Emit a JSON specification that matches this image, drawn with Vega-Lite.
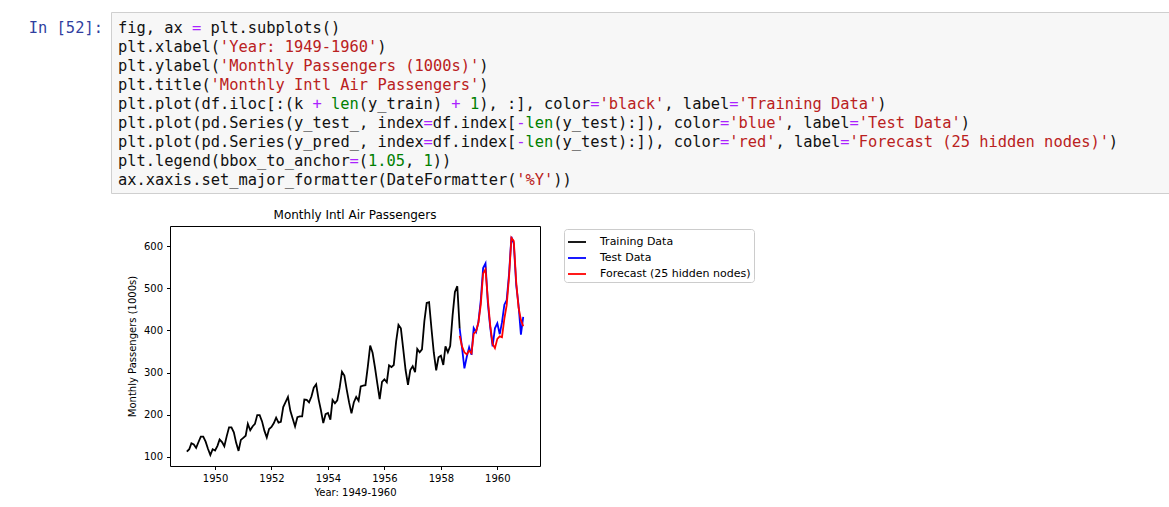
{
  "$schema": "https://vega.github.io/schema/vega-lite/v6.json",
  "padding": {"left": 0, "top": 11, "right": 0, "bottom": 0},
  "background": "white",
  "config": {"view": {"stroke": null}, "font": "DejaVu Sans"},
  "datasets": {
    "code": [
      {"line": 0, "col": 0, "text": "fig, ax", "kind": "p"},
      {"line": 0, "col": 8, "text": "=", "kind": "o"},
      {"line": 0, "col": 10, "text": "plt.subplots()", "kind": "p"},
      {"line": 1, "col": 0, "text": "plt.xlabel(", "kind": "p"},
      {"line": 1, "col": 11, "text": "'Year: 1949-1960'", "kind": "s"},
      {"line": 1, "col": 28, "text": ")", "kind": "p"},
      {"line": 2, "col": 0, "text": "plt.ylabel(", "kind": "p"},
      {"line": 2, "col": 11, "text": "'Monthly Passengers (1000s)'", "kind": "s"},
      {"line": 2, "col": 39, "text": ")", "kind": "p"},
      {"line": 3, "col": 0, "text": "plt.title(", "kind": "p"},
      {"line": 3, "col": 10, "text": "'Monthly Intl Air Passengers'", "kind": "s"},
      {"line": 3, "col": 39, "text": ")", "kind": "p"},
      {"line": 4, "col": 0, "text": "plt.plot(df.iloc[:(k", "kind": "p"},
      {"line": 4, "col": 21, "text": "+", "kind": "o"},
      {"line": 4, "col": 23, "text": "len", "kind": "n"},
      {"line": 4, "col": 26, "text": "(y_train)", "kind": "p"},
      {"line": 4, "col": 36, "text": "+", "kind": "o"},
      {"line": 4, "col": 38, "text": "1", "kind": "n"},
      {"line": 4, "col": 39, "text": "), :], color", "kind": "p"},
      {"line": 4, "col": 51, "text": "=", "kind": "o"},
      {"line": 4, "col": 52, "text": "'black'", "kind": "s"},
      {"line": 4, "col": 59, "text": ", label", "kind": "p"},
      {"line": 4, "col": 66, "text": "=", "kind": "o"},
      {"line": 4, "col": 67, "text": "'Training Data'", "kind": "s"},
      {"line": 4, "col": 82, "text": ")", "kind": "p"},
      {"line": 5, "col": 0, "text": "plt.plot(pd.Series(y_test_, index", "kind": "p"},
      {"line": 5, "col": 33, "text": "=", "kind": "o"},
      {"line": 5, "col": 34, "text": "df.index[", "kind": "p"},
      {"line": 5, "col": 43, "text": "-", "kind": "o"},
      {"line": 5, "col": 44, "text": "len", "kind": "n"},
      {"line": 5, "col": 47, "text": "(y_test):]), color", "kind": "p"},
      {"line": 5, "col": 65, "text": "=", "kind": "o"},
      {"line": 5, "col": 66, "text": "'blue'", "kind": "s"},
      {"line": 5, "col": 72, "text": ", label", "kind": "p"},
      {"line": 5, "col": 79, "text": "=", "kind": "o"},
      {"line": 5, "col": 80, "text": "'Test Data'", "kind": "s"},
      {"line": 5, "col": 91, "text": ")", "kind": "p"},
      {"line": 6, "col": 0, "text": "plt.plot(pd.Series(y_pred_, index", "kind": "p"},
      {"line": 6, "col": 33, "text": "=", "kind": "o"},
      {"line": 6, "col": 34, "text": "df.index[", "kind": "p"},
      {"line": 6, "col": 43, "text": "-", "kind": "o"},
      {"line": 6, "col": 44, "text": "len", "kind": "n"},
      {"line": 6, "col": 47, "text": "(y_test):]), color", "kind": "p"},
      {"line": 6, "col": 65, "text": "=", "kind": "o"},
      {"line": 6, "col": 66, "text": "'red'", "kind": "s"},
      {"line": 6, "col": 71, "text": ", label", "kind": "p"},
      {"line": 6, "col": 78, "text": "=", "kind": "o"},
      {"line": 6, "col": 79, "text": "'Forecast (25 hidden nodes)'", "kind": "s"},
      {"line": 6, "col": 107, "text": ")", "kind": "p"},
      {"line": 7, "col": 0, "text": "plt.legend(bbox_to_anchor", "kind": "p"},
      {"line": 7, "col": 25, "text": "=", "kind": "o"},
      {"line": 7, "col": 26, "text": "(", "kind": "p"},
      {"line": 7, "col": 27, "text": "1.05", "kind": "n"},
      {"line": 7, "col": 31, "text": ",", "kind": "p"},
      {"line": 7, "col": 33, "text": "1", "kind": "n"},
      {"line": 7, "col": 34, "text": "))", "kind": "p"},
      {"line": 8, "col": 0, "text": "ax.xaxis.set_major_formatter(DateFormatter(", "kind": "p"},
      {"line": 8, "col": 43, "text": "'%Y'", "kind": "s"},
      {"line": 8, "col": 47, "text": "))", "kind": "p"}
    ],
    "air": [
      {"date": "1949-01-01", "value": 112, "series": "Training Data"},
      {"date": "1949-02-01", "value": 118, "series": "Training Data"},
      {"date": "1949-03-01", "value": 132, "series": "Training Data"},
      {"date": "1949-04-01", "value": 129, "series": "Training Data"},
      {"date": "1949-05-01", "value": 121, "series": "Training Data"},
      {"date": "1949-06-01", "value": 135, "series": "Training Data"},
      {"date": "1949-07-01", "value": 148, "series": "Training Data"},
      {"date": "1949-08-01", "value": 148, "series": "Training Data"},
      {"date": "1949-09-01", "value": 136, "series": "Training Data"},
      {"date": "1949-10-01", "value": 119, "series": "Training Data"},
      {"date": "1949-11-01", "value": 104, "series": "Training Data"},
      {"date": "1949-12-01", "value": 118, "series": "Training Data"},
      {"date": "1950-01-01", "value": 115, "series": "Training Data"},
      {"date": "1950-02-01", "value": 126, "series": "Training Data"},
      {"date": "1950-03-01", "value": 141, "series": "Training Data"},
      {"date": "1950-04-01", "value": 135, "series": "Training Data"},
      {"date": "1950-05-01", "value": 125, "series": "Training Data"},
      {"date": "1950-06-01", "value": 149, "series": "Training Data"},
      {"date": "1950-07-01", "value": 170, "series": "Training Data"},
      {"date": "1950-08-01", "value": 170, "series": "Training Data"},
      {"date": "1950-09-01", "value": 158, "series": "Training Data"},
      {"date": "1950-10-01", "value": 133, "series": "Training Data"},
      {"date": "1950-11-01", "value": 114, "series": "Training Data"},
      {"date": "1950-12-01", "value": 140, "series": "Training Data"},
      {"date": "1951-01-01", "value": 145, "series": "Training Data"},
      {"date": "1951-02-01", "value": 150, "series": "Training Data"},
      {"date": "1951-03-01", "value": 178, "series": "Training Data"},
      {"date": "1951-04-01", "value": 163, "series": "Training Data"},
      {"date": "1951-05-01", "value": 172, "series": "Training Data"},
      {"date": "1951-06-01", "value": 178, "series": "Training Data"},
      {"date": "1951-07-01", "value": 199, "series": "Training Data"},
      {"date": "1951-08-01", "value": 199, "series": "Training Data"},
      {"date": "1951-09-01", "value": 184, "series": "Training Data"},
      {"date": "1951-10-01", "value": 162, "series": "Training Data"},
      {"date": "1951-11-01", "value": 146, "series": "Training Data"},
      {"date": "1951-12-01", "value": 166, "series": "Training Data"},
      {"date": "1952-01-01", "value": 171, "series": "Training Data"},
      {"date": "1952-02-01", "value": 180, "series": "Training Data"},
      {"date": "1952-03-01", "value": 193, "series": "Training Data"},
      {"date": "1952-04-01", "value": 181, "series": "Training Data"},
      {"date": "1952-05-01", "value": 183, "series": "Training Data"},
      {"date": "1952-06-01", "value": 218, "series": "Training Data"},
      {"date": "1952-07-01", "value": 230, "series": "Training Data"},
      {"date": "1952-08-01", "value": 242, "series": "Training Data"},
      {"date": "1952-09-01", "value": 209, "series": "Training Data"},
      {"date": "1952-10-01", "value": 191, "series": "Training Data"},
      {"date": "1952-11-01", "value": 172, "series": "Training Data"},
      {"date": "1952-12-01", "value": 194, "series": "Training Data"},
      {"date": "1953-01-01", "value": 196, "series": "Training Data"},
      {"date": "1953-02-01", "value": 196, "series": "Training Data"},
      {"date": "1953-03-01", "value": 236, "series": "Training Data"},
      {"date": "1953-04-01", "value": 235, "series": "Training Data"},
      {"date": "1953-05-01", "value": 229, "series": "Training Data"},
      {"date": "1953-06-01", "value": 243, "series": "Training Data"},
      {"date": "1953-07-01", "value": 264, "series": "Training Data"},
      {"date": "1953-08-01", "value": 272, "series": "Training Data"},
      {"date": "1953-09-01", "value": 237, "series": "Training Data"},
      {"date": "1953-10-01", "value": 211, "series": "Training Data"},
      {"date": "1953-11-01", "value": 180, "series": "Training Data"},
      {"date": "1953-12-01", "value": 201, "series": "Training Data"},
      {"date": "1954-01-01", "value": 204, "series": "Training Data"},
      {"date": "1954-02-01", "value": 188, "series": "Training Data"},
      {"date": "1954-03-01", "value": 235, "series": "Training Data"},
      {"date": "1954-04-01", "value": 227, "series": "Training Data"},
      {"date": "1954-05-01", "value": 234, "series": "Training Data"},
      {"date": "1954-06-01", "value": 264, "series": "Training Data"},
      {"date": "1954-07-01", "value": 302, "series": "Training Data"},
      {"date": "1954-08-01", "value": 293, "series": "Training Data"},
      {"date": "1954-09-01", "value": 259, "series": "Training Data"},
      {"date": "1954-10-01", "value": 229, "series": "Training Data"},
      {"date": "1954-11-01", "value": 203, "series": "Training Data"},
      {"date": "1954-12-01", "value": 229, "series": "Training Data"},
      {"date": "1955-01-01", "value": 242, "series": "Training Data"},
      {"date": "1955-02-01", "value": 233, "series": "Training Data"},
      {"date": "1955-03-01", "value": 267, "series": "Training Data"},
      {"date": "1955-04-01", "value": 269, "series": "Training Data"},
      {"date": "1955-05-01", "value": 270, "series": "Training Data"},
      {"date": "1955-06-01", "value": 315, "series": "Training Data"},
      {"date": "1955-07-01", "value": 364, "series": "Training Data"},
      {"date": "1955-08-01", "value": 347, "series": "Training Data"},
      {"date": "1955-09-01", "value": 312, "series": "Training Data"},
      {"date": "1955-10-01", "value": 274, "series": "Training Data"},
      {"date": "1955-11-01", "value": 237, "series": "Training Data"},
      {"date": "1955-12-01", "value": 278, "series": "Training Data"},
      {"date": "1956-01-01", "value": 284, "series": "Training Data"},
      {"date": "1956-02-01", "value": 277, "series": "Training Data"},
      {"date": "1956-03-01", "value": 317, "series": "Training Data"},
      {"date": "1956-04-01", "value": 313, "series": "Training Data"},
      {"date": "1956-05-01", "value": 318, "series": "Training Data"},
      {"date": "1956-06-01", "value": 374, "series": "Training Data"},
      {"date": "1956-07-01", "value": 413, "series": "Training Data"},
      {"date": "1956-08-01", "value": 405, "series": "Training Data"},
      {"date": "1956-09-01", "value": 355, "series": "Training Data"},
      {"date": "1956-10-01", "value": 306, "series": "Training Data"},
      {"date": "1956-11-01", "value": 271, "series": "Training Data"},
      {"date": "1956-12-01", "value": 306, "series": "Training Data"},
      {"date": "1957-01-01", "value": 315, "series": "Training Data"},
      {"date": "1957-02-01", "value": 301, "series": "Training Data"},
      {"date": "1957-03-01", "value": 356, "series": "Training Data"},
      {"date": "1957-04-01", "value": 348, "series": "Training Data"},
      {"date": "1957-05-01", "value": 355, "series": "Training Data"},
      {"date": "1957-06-01", "value": 422, "series": "Training Data"},
      {"date": "1957-07-01", "value": 465, "series": "Training Data"},
      {"date": "1957-08-01", "value": 467, "series": "Training Data"},
      {"date": "1957-09-01", "value": 404, "series": "Training Data"},
      {"date": "1957-10-01", "value": 347, "series": "Training Data"},
      {"date": "1957-11-01", "value": 305, "series": "Training Data"},
      {"date": "1957-12-01", "value": 336, "series": "Training Data"},
      {"date": "1958-01-01", "value": 340, "series": "Training Data"},
      {"date": "1958-02-01", "value": 318, "series": "Training Data"},
      {"date": "1958-03-01", "value": 362, "series": "Training Data"},
      {"date": "1958-04-01", "value": 348, "series": "Training Data"},
      {"date": "1958-05-01", "value": 363, "series": "Training Data"},
      {"date": "1958-06-01", "value": 435, "series": "Training Data"},
      {"date": "1958-07-01", "value": 491, "series": "Training Data"},
      {"date": "1958-08-01", "value": 505, "series": "Training Data"},
      {"date": "1958-09-01", "value": 404, "series": "Training Data"},
      {"date": "1958-09-01", "value": 404, "series": "Test Data"},
      {"date": "1958-10-01", "value": 359, "series": "Test Data"},
      {"date": "1958-11-01", "value": 310, "series": "Test Data"},
      {"date": "1958-12-01", "value": 337, "series": "Test Data"},
      {"date": "1959-01-01", "value": 360, "series": "Test Data"},
      {"date": "1959-02-01", "value": 342, "series": "Test Data"},
      {"date": "1959-03-01", "value": 406, "series": "Test Data"},
      {"date": "1959-04-01", "value": 396, "series": "Test Data"},
      {"date": "1959-05-01", "value": 420, "series": "Test Data"},
      {"date": "1959-06-01", "value": 472, "series": "Test Data"},
      {"date": "1959-07-01", "value": 548, "series": "Test Data"},
      {"date": "1959-08-01", "value": 559, "series": "Test Data"},
      {"date": "1959-09-01", "value": 463, "series": "Test Data"},
      {"date": "1959-10-01", "value": 407, "series": "Test Data"},
      {"date": "1959-11-01", "value": 362, "series": "Test Data"},
      {"date": "1959-12-01", "value": 405, "series": "Test Data"},
      {"date": "1960-01-01", "value": 417, "series": "Test Data"},
      {"date": "1960-02-01", "value": 391, "series": "Test Data"},
      {"date": "1960-03-01", "value": 419, "series": "Test Data"},
      {"date": "1960-04-01", "value": 461, "series": "Test Data"},
      {"date": "1960-05-01", "value": 472, "series": "Test Data"},
      {"date": "1960-06-01", "value": 535, "series": "Test Data"},
      {"date": "1960-07-01", "value": 622, "series": "Test Data"},
      {"date": "1960-08-01", "value": 606, "series": "Test Data"},
      {"date": "1960-09-01", "value": 508, "series": "Test Data"},
      {"date": "1960-10-01", "value": 461, "series": "Test Data"},
      {"date": "1960-11-01", "value": 390, "series": "Test Data"},
      {"date": "1960-12-01", "value": 432, "series": "Test Data"},
      {"date": "1958-09-01", "value": 387, "series": "Forecast (25 hidden nodes)"},
      {"date": "1958-10-01", "value": 362, "series": "Forecast (25 hidden nodes)"},
      {"date": "1958-11-01", "value": 348, "series": "Forecast (25 hidden nodes)"},
      {"date": "1958-12-01", "value": 343, "series": "Forecast (25 hidden nodes)"},
      {"date": "1959-01-01", "value": 352, "series": "Forecast (25 hidden nodes)"},
      {"date": "1959-02-01", "value": 346, "series": "Forecast (25 hidden nodes)"},
      {"date": "1959-03-01", "value": 392, "series": "Forecast (25 hidden nodes)"},
      {"date": "1959-04-01", "value": 398, "series": "Forecast (25 hidden nodes)"},
      {"date": "1959-05-01", "value": 418, "series": "Forecast (25 hidden nodes)"},
      {"date": "1959-06-01", "value": 462, "series": "Forecast (25 hidden nodes)"},
      {"date": "1959-07-01", "value": 535, "series": "Forecast (25 hidden nodes)"},
      {"date": "1959-08-01", "value": 545, "series": "Forecast (25 hidden nodes)"},
      {"date": "1959-09-01", "value": 472, "series": "Forecast (25 hidden nodes)"},
      {"date": "1959-10-01", "value": 412, "series": "Forecast (25 hidden nodes)"},
      {"date": "1959-11-01", "value": 368, "series": "Forecast (25 hidden nodes)"},
      {"date": "1959-12-01", "value": 358, "series": "Forecast (25 hidden nodes)"},
      {"date": "1960-01-01", "value": 380, "series": "Forecast (25 hidden nodes)"},
      {"date": "1960-02-01", "value": 386, "series": "Forecast (25 hidden nodes)"},
      {"date": "1960-03-01", "value": 384, "series": "Forecast (25 hidden nodes)"},
      {"date": "1960-04-01", "value": 428, "series": "Forecast (25 hidden nodes)"},
      {"date": "1960-05-01", "value": 460, "series": "Forecast (25 hidden nodes)"},
      {"date": "1960-06-01", "value": 528, "series": "Forecast (25 hidden nodes)"},
      {"date": "1960-07-01", "value": 620, "series": "Forecast (25 hidden nodes)"},
      {"date": "1960-08-01", "value": 612, "series": "Forecast (25 hidden nodes)"},
      {"date": "1960-09-01", "value": 515, "series": "Forecast (25 hidden nodes)"},
      {"date": "1960-10-01", "value": 455, "series": "Forecast (25 hidden nodes)"},
      {"date": "1960-11-01", "value": 425, "series": "Forecast (25 hidden nodes)"},
      {"date": "1960-12-01", "value": 410, "series": "Forecast (25 hidden nodes)"}
    ]
  },
  "vconcat": [
    {
      "spacing": 0,
      "hconcat": [
        {
          "width": 110,
          "height": 181,
          "data": {"values": [{"line": 0, "text": "In [52]:"}]},
          "mark": {"type": "text", "font": "DejaVu Sans Mono", "fontSize": 15.4, "align": "right", "baseline": "middle", "color": "#303F9F"},
          "encoding": {
            "x": {"datum": 0, "type": "quantitative", "scale": {"domain": [-11.1, 0.76], "zero": false, "nice": false}, "axis": null},
            "y": {"field": "line", "type": "quantitative", "scale": {"domain": [-0.842, 8.684], "reverse": true, "zero": false, "nice": false}, "axis": null},
            "text": {"field": "text"}
          }
        },
        {
          "width": 1058,
          "height": 181,
          "view": {"fill": "#f7f7f7", "stroke": "#cfcfcf"},
          "data": {"name": "code"},
          "encoding": {
            "x": {"field": "col", "type": "quantitative", "scale": {"domain": [-0.756, 113.5], "zero": false, "nice": false}, "axis": null},
            "y": {"field": "line", "type": "quantitative", "scale": {"domain": [-0.842, 8.684], "reverse": true, "zero": false, "nice": false}, "axis": null},
            "text": {"field": "text"}
          },
          "layer": [
            {"transform": [{"filter": {"field": "kind", "equal": "p"}}], "mark": {"type": "text", "font": "DejaVu Sans Mono", "fontSize": 15.4, "align": "left", "baseline": "middle", "color": "#111111"}},
            {"transform": [{"filter": {"field": "kind", "equal": "s"}}], "mark": {"type": "text", "font": "DejaVu Sans Mono", "fontSize": 15.4, "align": "left", "baseline": "middle", "color": "#BA2121"}},
            {"transform": [{"filter": {"field": "kind", "equal": "o"}}], "mark": {"type": "text", "font": "DejaVu Sans Mono", "fontSize": 15.4, "align": "left", "baseline": "middle", "color": "#AA22FF"}},
            {"transform": [{"filter": {"field": "kind", "equal": "n"}}], "mark": {"type": "text", "font": "DejaVu Sans Mono", "fontSize": 15.4, "align": "left", "baseline": "middle", "color": "#008000"}}
          ]
        }
      ]
    },
    {
      "spacing": 0,
      "hconcat": [
        {
          "width": 125.5,
          "height": 20,
          "data": {"values": []},
          "mark": "point",
          "encoding": {}
        },
        {
          "width": 370,
          "height": 240,
          "view": {"stroke": "#000000", "strokeWidth": 1},
          "title": {"text": "Monthly Intl Air Passengers", "fontSize": 12, "fontWeight": "normal", "font": "DejaVu Sans", "color": "#000000", "offset": 4},
          "data": {"name": "air"},
          "encoding": {
            "x": {
              "field": "date", "type": "temporal", "title": "Year: 1949-1960",
              "scale": {"type": "utc", "domain": [{"year": 1948, "month": 5, "date": 28, "utc": true}, {"year": 1961, "month": 7, "date": 6, "utc": true}]},
              "axis": {
                "values": [{"year": 1950, "utc": true}, {"year": 1952, "utc": true}, {"year": 1954, "utc": true}, {"year": 1956, "utc": true}, {"year": 1958, "utc": true}, {"year": 1960, "utc": true}],
                "format": "%Y", "grid": false, "domain": false,
                "labelFont": "DejaVu Sans", "labelFontSize": 10, "labelColor": "#000000", "labelPadding": 4,
                "tickColor": "#000000", "tickSize": 3.5,
                "titleFont": "DejaVu Sans", "titleFontSize": 10, "titleFontWeight": "normal", "titleColor": "#000000", "titlePadding": 4
              }
            },
            "y": {
              "field": "value", "type": "quantitative", "title": "Monthly Passengers (1000s)",
              "scale": {"domain": [78.1, 647.9], "zero": false, "nice": false},
              "axis": {
                "values": [100, 200, 300, 400, 500, 600], "grid": false, "domain": false,
                "labelFont": "DejaVu Sans", "labelFontSize": 10, "labelColor": "#000000", "labelPadding": 4,
                "tickColor": "#000000", "tickSize": 3.5,
                "titleFont": "DejaVu Sans", "titleFontSize": 10, "titleFontWeight": "normal", "titleColor": "#000000", "titlePadding": 6
              }
            },
            "color": {
              "field": "series", "type": "nominal",
              "scale": {"domain": ["Training Data", "Test Data", "Forecast (25 hidden nodes)"], "range": ["#000000", "#0000ff", "#ff0000"]},
              "legend": {
                "orient": "none", "legendX": 564, "legendY": 217, "title": null,
                "symbolType": "stroke", "symbolSize": 324, "symbolStrokeWidth": 1.8,
                "labelFont": "DejaVu Sans", "labelFontSize": 11, "labelColor": "#000000", "labelOffset": 13,
                "strokeColor": "#cccccc", "fillColor": "#ffffff", "padding": 3, "cornerRadius": 3, "rowPadding": 1
              }
            }
          },
          "layer": [
            {"transform": [{"filter": {"field": "series", "equal": "Training Data"}}], "mark": {"type": "line", "strokeWidth": 1.8}},
            {"transform": [{"filter": {"field": "series", "equal": "Test Data"}}], "mark": {"type": "line", "strokeWidth": 1.8}},
            {"transform": [{"filter": {"field": "series", "equal": "Forecast (25 hidden nodes)"}}], "mark": {"type": "line", "strokeWidth": 1.8}}
          ]
        }
      ]
    }
  ],
  "spacing": 14
}
